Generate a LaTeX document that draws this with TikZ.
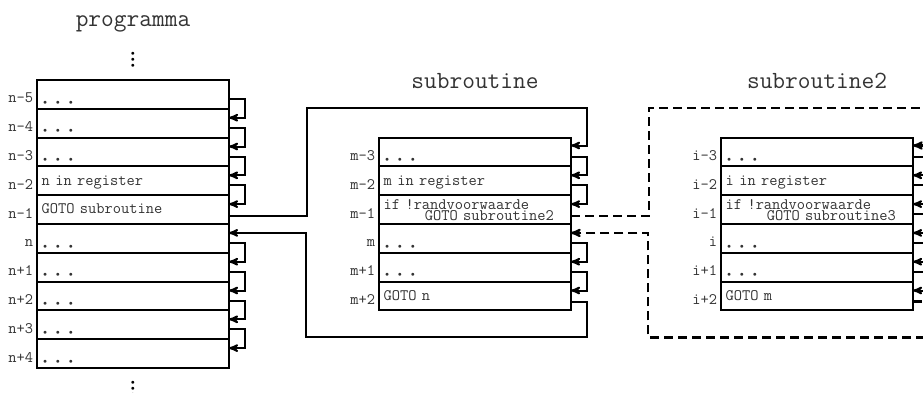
\documentclass[tikz,border=0pt]{standalone}
\usepackage{fontspec}
\usetikzlibrary{positioning, arrows}

% three dots in a cell, and the vertical ones above/below the stack
\newcommand{\cel}{\raisebox{-5.3pt}{\fontsize{7.5}{7}\selectfont\hspace*{1.4pt}$\bullet$\hspace{8.75pt}$\bullet$\hspace{8.75pt}$\bullet$}}
\newcommand{\vdd}{\vbox{\fontsize{7.5}{7}\selectfont\baselineskip=6pt\lineskiplimit=-20pt\hbox{$\bullet$}\hbox{$\bullet$}\hbox{$\bullet$}}}

\begin{document}
\begin{tikzpicture}[>=stealth', line width=2pt,
    row/.style={draw, rectangle, outer sep=0pt, inner xsep=4.7pt, inner ysep=0pt,
                text width=182.6pt, minimum height=28.8pt, align=left,
                text height=9pt, text depth=0.4pt,
                font=\ttfamily\fontsize{16}{11.5}\selectfont, text=black!80},
    tworow/.style={row, text depth=10pt},
    lbl/.style={font=\ttfamily\fontsize{16}{11.5}\selectfont, text=black!80,
                text height=9pt, text depth=0.4pt, inner sep=3pt, yshift=-4.2pt},
    title/.style={font=\ttfamily\fontsize{24.7}{27}\selectfont, text=black!80,
                  text height=10pt, text depth=0pt},
    vdd/.style={inner sep=0pt},
    flow/.style={->, line width=2pt},
    jump/.style={flow, dashed, dash pattern=on 9pt off 5pt, line width=2.2pt}]

\useasboundingbox (0,0) rectangle (923pt,-392pt);
\clip (0,0) rectangle (923pt,-392pt);

% programma
\node[row, anchor=north west, label={[lbl]west:n-5}] (nm5) at (37pt,-80pt) {\cel};
\node[row, label={[lbl]west:n-4}] (nm4) [below=0pt of nm5] {\cel};
\node[row, label={[lbl]west:n-3}] (nm3) [below=0pt of nm4] {\cel};
\node[row, label={[lbl]west:n-2}] (nm2) [below=0pt of nm3] {n in register};
\node[row, label={[lbl]west:n-1}] (nm1) [below=0pt of nm2] {GOTO subroutine};
\node[row, label={[lbl]west:n}]   (n)   [below=0pt of nm1] {\cel};
\node[row, label={[lbl]west:n+1}] (np1) [below=0pt of n]   {\cel};
\node[row, label={[lbl]west:n+2}] (np2) [below=0pt of np1] {\cel};
\node[row, label={[lbl]west:n+3}] (np3) [below=0pt of np2] {\cel};
\node[row, label={[lbl]west:n+4}] (np4) [below=0pt of np3] {\cel};

\node[title] (tprog) at ([yshift=59pt]nm5.north) {programma};
\node[vdd]   (vtop)  at ([yshift=20pt]nm5.north)  {\vdd};
\node[vdd]   (vbot)  at ([yshift=-20.7pt]np4.south) {\vdd};

% subroutine
\node[row, label={[lbl]west:m-3}]    (mm3) [right=150pt of nm3] {\cel};
\node[row, label={[lbl]west:m-2}]    (mm2) [below=0pt of mm3] {m in register};
\node[tworow, label={[lbl]west:m-1}] (mm1) [below=0pt of mm2] {if !randvoorwaarde\\\phantom{xxxxx}GOTO subroutine2};
\node[row, label={[lbl]west:m}]      (m)   [below=0pt of mm1] {\cel};
\node[row, label={[lbl]west:m+1}]    (mp1) [below=0pt of m]   {\cel};
\node[row, label={[lbl]west:m+2}]    (mp2) [below=0pt of mp1] {GOTO n};

\node[title] (tsub) at ([yshift=54pt]mm3.north) {subroutine};

% subroutine2
\node[row, label={[lbl]west:i-3}]    (im3) [right=150pt of mm3] {\cel};
\node[row, label={[lbl]west:i-2}]    (im2) [below=0pt of im3] {i in register};
\node[tworow, label={[lbl]west:i-1}] (im1) [below=0pt of im2] {if !randvoorwaarde\\\phantom{xxxxx}GOTO subroutine3};
\node[row, label={[lbl]west:i}]      (i)   [below=0pt of im1] {\cel};
\node[row, label={[lbl]west:i+1}]    (ip1) [below=0pt of i]   {\cel};
\node[row, label={[lbl]west:i+2}]    (ip2) [below=0pt of ip1] {GOTO m};

\node[title] (tsub2) at ([yshift=54pt]im3.north) {subroutine2};

% next instruction
\foreach \a/\b in {nm5/nm4, nm4/nm3, nm3/nm2, nm2/nm1, n/np1, np1/np2, np2/np3, np3/np4,
                   mm3/mm2, mm2/mm1, m/mp1, mp1/mp2,
                   im3/im2, im2/im1, im1/i, i/ip1, ip1/ip2}
  \draw[flow] ([yshift=-4.5pt]\a.east) -- ++(16pt,0) |- ([yshift=5.5pt]\b.east);

% calls and returns
\draw[flow] ([yshift=-6pt]nm1.east) -- ++(78pt,0) |- ([shift={(16pt,30pt)}]mm3.north east) |- ([yshift=6.5pt]mm3.east);
\draw[flow] ([yshift=-5.5pt]mp2.east) -- ++(16pt,0) |- ([shift={(-73pt,-27pt)}]mp2.south west) |- ([yshift=5.5pt]n.east);
\draw[jump] ([yshift=-6pt]mm1.east) -- ++(78pt,0) |- ([shift={(16pt,30pt)}]im3.north east) |- ([yshift=6.5pt]im3.east);
\draw[jump] ([yshift=-5.5pt]ip2.east) -- ++(16pt,0) |- ([shift={(-73pt,-27pt)}]ip2.south west) |- ([yshift=5.5pt]m.east);
\end{tikzpicture}
\end{document}
